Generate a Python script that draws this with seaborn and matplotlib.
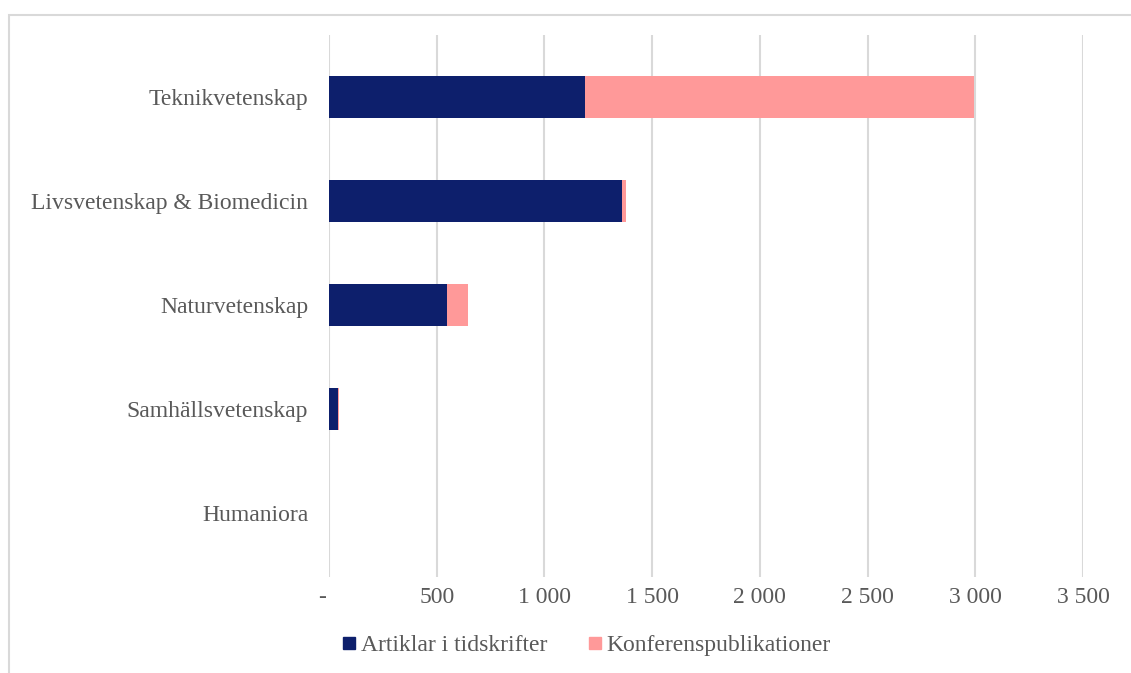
import matplotlib
matplotlib.use("Agg")
import matplotlib.pyplot as plt
from matplotlib.lines import Line2D
from matplotlib.patches import Rectangle
import seaborn as sns
import pandas as pd
import numpy as np

categories = ["Teknikvetenskap", "Livsvetenskap & Biomedicin", "Naturvetenskap",
              "Samhällsvetenskap", "Humaniora"]
artiklar = [1190, 1360, 550, 43, 0]
konferens = [1805, 18, 97, 5, 0]
x_ticks = [0, 500, 1000, 1500, 2000, 2500, 3000, 3500]
x_tick_labels = ["-  ", "500", "1 000", "1 500", "2 000", "2 500", "3 000", "3 500"]
series_names = ["Artiklar i tidskrifter", "Konferenspublikationer"]

NAVY = "#0d1f6c"
PINK = "#ff9999"
TEXT = "#595959"

sns.set_theme(style="white")
plt.rcParams["font.family"] = ["Liberation Serif", "DejaVu Serif"]

df = pd.DataFrame({
    "kategori": categories,
    "artiklar": artiklar,
    "total": np.array(artiklar) + np.array(konferens),
})

fig = plt.figure(figsize=(11.31, 6.73), dpi=100)
ax = fig.add_axes([329 / 1131, 1 - 577 / 673, (1083 - 329) / 1131, (577 - 35) / 673])

# stacked bars: full total in pink, article share drawn on top in navy
sns.barplot(data=df, y="kategori", x="total", color=PINK, width=0.4,
            orient="h", ax=ax, saturation=1, zorder=2, linewidth=0)
sns.barplot(data=df, y="kategori", x="artiklar", color=NAVY, width=0.4,
            orient="h", ax=ax, saturation=1, zorder=3, linewidth=0)

ax.set_xlim(0, 3500)
ax.set_ylim(4.615, -0.596)
ax.set_xticks(x_ticks)
ax.set_xticklabels(x_tick_labels, fontsize=17, color=TEXT)
ax.tick_params(axis="y", labelsize=17, colors=TEXT, length=0, pad=15)
ax.tick_params(axis="x", length=0, pad=7.5)
ax.set_xlabel("")
ax.set_ylabel("")
ax.xaxis.grid(True, color="#d9d9d9", linewidth=1.5, zorder=0)
ax.set_axisbelow(True)
for s in ax.spines.values():
    s.set_visible(False)

handles = [Line2D([], [], marker="s", linestyle="none", markersize=8,
                  markerfacecolor=c, markeredgecolor=c)
           for c in (NAVY, PINK)]
fig.legend(handles, series_names, loc="center", bbox_to_anchor=(583 / 1131, 1 - 645 / 673),
           ncol=2, frameon=False, fontsize=17, handletextpad=-0.1, handlelength=1.2,
           columnspacing=1.4, labelcolor=TEXT)

# chart frame
fig.patches.append(Rectangle((9 / 1131, -0.05), 1.2, 1 - 15 / 673 + 0.05,
                             transform=fig.transFigure, fill=False,
                             edgecolor="#d9d9d9", linewidth=1.5))

fig.savefig("out.png", dpi=100, facecolor="white")
